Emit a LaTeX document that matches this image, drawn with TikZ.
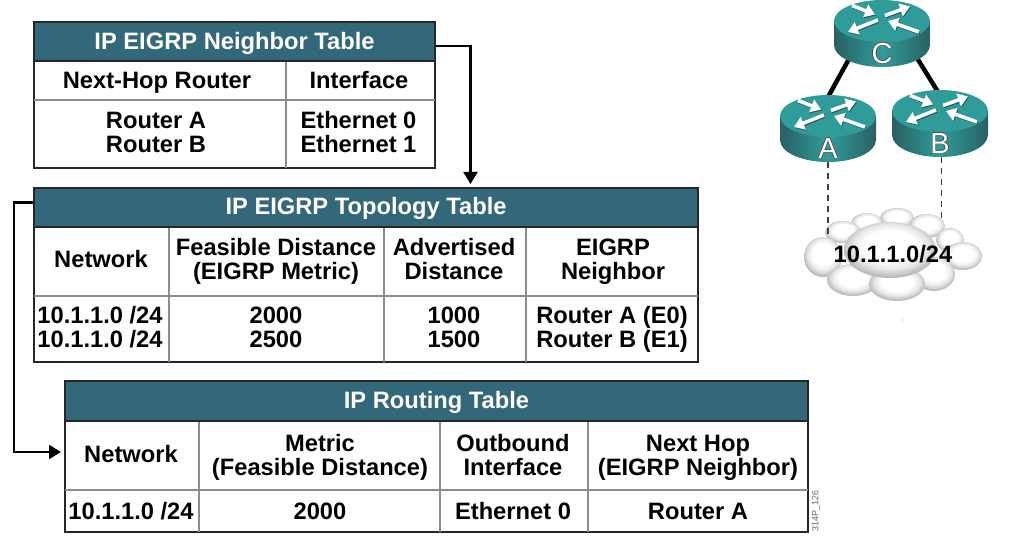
\documentclass[tikz,border=0pt]{standalone}
\usepackage{fontspec}
\setmainfont{Liberation Sans}
\usepackage{contour}
\contourlength{0.5pt}
\contournumber{16}
\usetikzlibrary{arrows.meta,calc}
\definecolor{titlebar}{HTML}{33677A}
\definecolor{teal1}{HTML}{2F9C9A}
\definecolor{teal2}{HTML}{2A6063}
\definecolor{rshadow}{HTML}{1F5A5C}
\pgfdeclareradialshading{puffshade}{\pgfpoint{0bp}{5bp}}{color(0bp)=(white);color(14bp)=(white);color(20bp)=(black!9);color(27bp)=(black!30);color(50bp)=(black!30)}
\newcommand\celltxt[1]{\rule{0pt}{17pt}\smash{#1}}
\tikzset{
  titlecell/.style={draw=black!85,line width=1.5pt,fill=titlebar,text=white,inner sep=0pt,font=\fontsize{23.7}{24}\selectfont\bfseries},
  bodycell/.style={inner sep=0pt,align=center,text=black,font=\fontsize{23.7}{24}\selectfont\bfseries},
  outerbox/.style={draw=black!85,line width=1.5pt,fill=white},
  innerline/.style={draw=black!45,line width=1.3pt},
  conn/.style={draw=black,line width=2.2pt,-{Triangle[length=12pt,width=14pt]},shorten >=3pt},
  rlink/.style={draw=black,line width=4.5pt},
  drop/.style={draw=black!75,line width=1.8pt,dash pattern=on 6pt off 5pt},
  rarrow/.style={draw=white,line width=3.6pt,-{Triangle[length=10pt,width=13pt]}},
  rarrowdark/.style={draw=rshadow,line width=3.6pt,-{Triangle[length=10pt,width=13pt]}},
  rlabel/.style={text=white,inner sep=0pt,font=\fontsize{29}{29}\selectfont},
  puff/.style={shading=puffshade,draw=none},
  cloudlabel/.style={inner sep=0pt,text=black,font=\fontsize{23.7}{24}\selectfont\bfseries},
}
\newcommand\routersym[3]{%
  \begin{scope}[shift={(#1,#2)}]
    \shade[left color=teal2,right color=teal2,middle color=teal1]
      (-48,0) -- (-48,24) arc[start angle=180,end angle=0,x radius=48,y radius=22] -- (48,0) -- cycle;
    \fill[teal1] (0,0) ellipse[x radius=48,y radius=21];
    \foreach \ax/\ay/\bx/\by in {-30/-15.5/-7/-6.5, 3/-5.5/28/-14.5, -4/-1/-34/11, 37/11/6/0}{
      \draw[rarrowdark] (\ax+0.8,\ay+1) -- (\bx+0.8,\by+1);
      \draw[rarrow] (\ax,\ay) -- (\bx,\by);
    }
    \node[rlabel] (#3lab) at (0,34) {\celltxt{\contour{black!70}{#3}}};
  \end{scope}}
\begin{document}
\begin{tikzpicture}[x=1pt,y=-1pt]
\useasboundingbox (0,0) rectangle (1019,537);
% Table 1
\draw[outerbox] (34,61) rectangle (435,168);
\draw[innerline] (34,100) -- (435,100) (286,61) -- (286,168);
\node[titlecell,minimum width=401pt,minimum height=39pt] (t1) at (234.5,41.5) {\celltxt{IP EIGRP Neighbor Table}};
\node[bodycell] (t1a) at (157,80) {\celltxt{Next-Hop Router}};
\node[bodycell] (t1b) at (359,80) {\celltxt{Interface}};
\node[bodycell] (t1c) at (156,132) {\celltxt{Router A}\\\celltxt{Router B}};
\node[bodycell] (t1d) at (358.5,132) {\celltxt{Ethernet 0}\\\celltxt{Ethernet 1}};
% Table 2
\draw[outerbox] (34,227) rectangle (698,362);
\draw[innerline] (34,296) -- (698,296) (169,227) -- (169,362) (384,227) -- (384,362) (526,227) -- (526,362);
\node[titlecell,minimum width=664pt,minimum height=39pt] (t2) at (366,207.5) {\raisebox{1pt}[17pt][0pt]{\celltxt{IP EIGRP Topology Table}}};
\node[bodycell] (t2a) at (101,259) {\celltxt{Network}};
\node[bodycell] (t2b) at (276,259) {\celltxt{Feasible Distance}\\\celltxt{(EIGRP Metric)}};
\node[bodycell] (t2c) at (454,259) {\celltxt{Advertised}\\\celltxt{Distance}};
\node[bodycell] (t2d) at (613,259) {\celltxt{EIGRP}\\\celltxt{Neighbor}};
\node[bodycell] (t2e) at (100,327) {\celltxt{10.1.1.0 /24}\\\celltxt{10.1.1.0 /24}};
\node[bodycell] (t2f) at (276,327) {\celltxt{2000}\\\celltxt{2500}};
\node[bodycell] (t2g) at (454,327) {\celltxt{1000}\\\celltxt{1500}};
\node[bodycell] (t2h) at (612,327) {\celltxt{Router A (E0)}\\\celltxt{Router B (E1)}};
% Table 3
\draw[outerbox] (65,421) rectangle (808,532);
\draw[innerline] (65,490) -- (808,490) (199,421) -- (199,532) (440,421) -- (440,532) (588,421) -- (588,532);
\node[titlecell,minimum width=743pt,minimum height=40pt] (t3) at (436.5,401) {\raisebox{1pt}[17pt][0pt]{\celltxt{IP Routing Table}}};
\node[bodycell] (t3a) at (131,454) {\celltxt{Network}};
\node[bodycell] (t3b) at (320,455) {\celltxt{Metric}\\\celltxt{(Feasible Distance)}};
\node[bodycell] (t3c) at (513,455) {\celltxt{Outbound}\\\celltxt{Interface}};
\node[bodycell] (t3d) at (698,455) {\celltxt{Next Hop}\\\celltxt{(EIGRP Neighbor)}};
\node[bodycell] (t3e) at (131,511) {\celltxt{10.1.1.0 /24}};
\node[bodycell] (t3f) at (320,511) {\celltxt{2000}};
\node[bodycell] (t3g) at (513,511) {\celltxt{Ethernet 0}};
\node[bodycell] (t3h) at (698,511) {\celltxt{Router A}};
\node[inner sep=0pt,rotate=90,text=black!60,font=\fontsize{9}{9}\selectfont] (code) at (816,511) {314P\_126};
% Table connectors
\coordinate (t2in) at (470.5,187);
\coordinate (t3in) at (64,452);
\coordinate (t1out) at ($(t1.east)+(0,4.5)$);
\coordinate (t2out) at ($(t2.west)+(0,-5)$);
\draw[conn] (t1out) -| (t2in);
\draw[conn] (t2out) -- ++(-19,0) |- (t3in);
% Cloud
\foreach \cx/\cy/\rx/\ry in {
  897/218/17/10, 867/224/16/11, 843/232/18/11, 927/226/18/12, 950/240/14/12,
  963/256/19/14, 823/257/19/20, 853/280/26/16, 934/274/21/17, 897/284/28/17, 890/250/46/28}
  {\shade[puff] (\cx,\cy) ellipse[x radius=\rx,y radius=\ry];}
\node[cloudlabel] (net) at (893,254) {\celltxt{10.1.1.0/24}};
% Routers
\coordinate (Cl) at (849.5,58);
\coordinate (Cr) at (917,58);
\coordinate (Al) at (828,97);
\coordinate (Bl) at (938,92);
\draw[rlink] (Cl) -- (Al);
\draw[rlink] (Cr) -- (Bl);
\routersym{882}{21}{C}
\routersym{828}{116}{A}
\routersym{940}{111}{B}
\coordinate (Ad) at (828,162);
\coordinate (Bd) at (941.5,157);
\coordinate (Ac) at (828,235);
\coordinate (Bc) at (941.5,219);
\draw[drop] (Ad) -- (Ac);
\draw[drop] (Bd) -- (Bc);
\fill[red!50] (902.7,320) circle[radius=0.6];
\end{tikzpicture}
\end{document}
